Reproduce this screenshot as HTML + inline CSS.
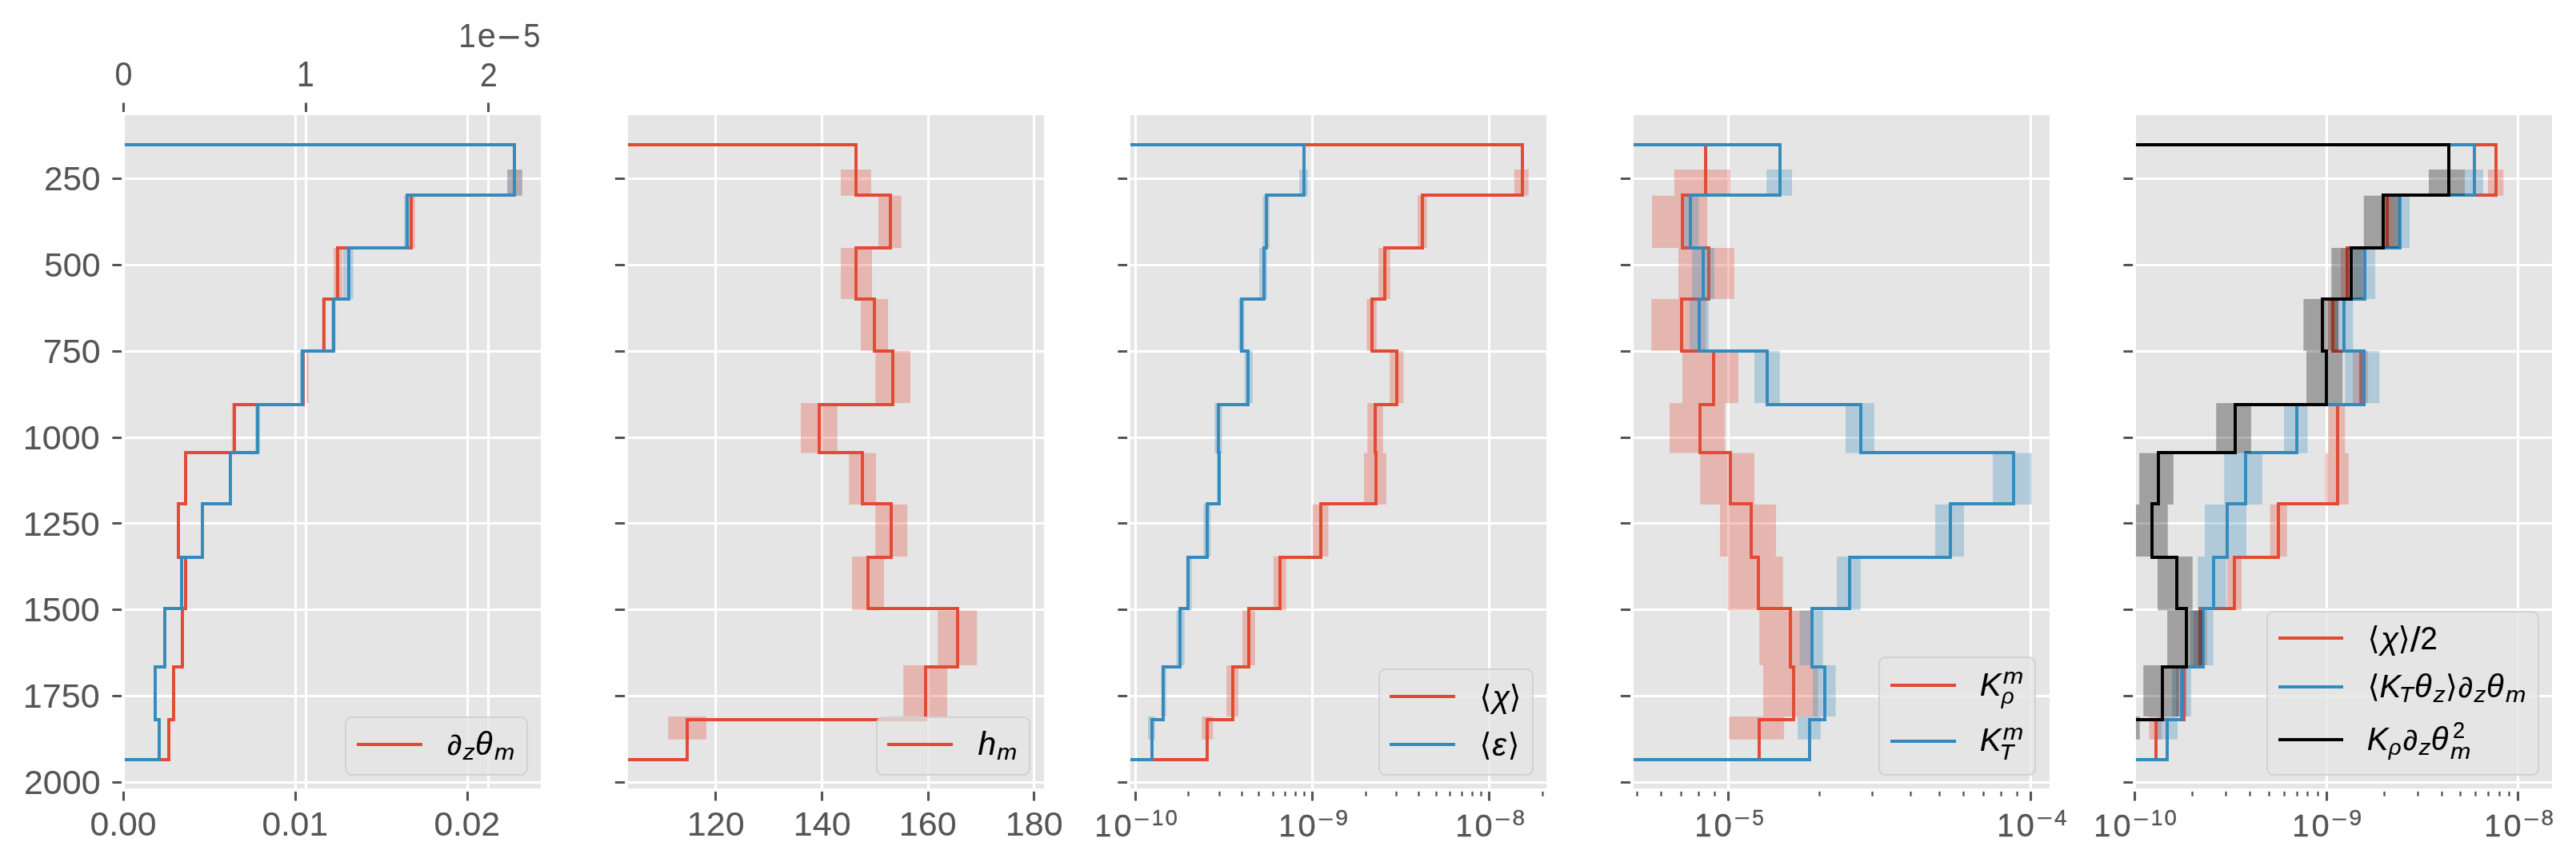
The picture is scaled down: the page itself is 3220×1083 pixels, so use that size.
<!DOCTYPE html><html><head><meta charset="utf-8"><style>html,body{margin:0;padding:0;background:#fff;}svg{display:block;font-family:"Liberation Sans",sans-serif;}</style></head><body>
<svg width="3220" height="1083" viewBox="0 0 3220 1083">
<rect width="3220" height="1083" fill="#ffffff"/>
<defs>
<clipPath id="c0"><rect x="154" y="142" width="524" height="846"/></clipPath>
<clipPath id="c1"><rect x="783" y="142" width="524" height="846"/></clipPath>
<clipPath id="c2"><rect x="1411" y="142" width="524" height="846"/></clipPath>
<clipPath id="c3"><rect x="2040" y="142" width="524" height="846"/></clipPath>
<clipPath id="c4"><rect x="2668" y="142" width="524" height="846"/></clipPath>
</defs>
<g>
<rect x="154" y="142" width="524" height="846" fill="#E5E5E5"/>
<path d="M154 223.5H678M154 331.5H678M154 439.5H678M154 547.5H678M154 654.5H678M154 762.5H678M154 870.5H678M154 978.5H678M154.5 142V988M369.5 142V988M584.5 142V988M382.5 142V988M610.5 142V988M154.5 142V988" stroke="#ffffff" stroke-width="3.11" fill="none"/>
<g clip-path="url(#c0)">
<rect x="634.1" y="212" width="18.7" height="32.7" fill="#E24A33" fill-opacity="0.3"/>
<rect x="512" y="244.7" width="6.8" height="65.4" fill="#E24A33" fill-opacity="0.3"/>
<rect x="417" y="310.1" width="11" height="63.8" fill="#E24A33" fill-opacity="0.3"/>
<rect x="402.2" y="373.9" width="4.8" height="64.8" fill="#E24A33" fill-opacity="0.3"/>
<rect x="383" y="438.7" width="2.7" height="65.4" fill="#E24A33" fill-opacity="0.3"/>
<rect x="289.7" y="504.1" width="5.1" height="62.5" fill="#E24A33" fill-opacity="0.3"/>
<path d="M114 181H643V244H514V310H422V374H405V439H379V506H293V566H232V630H223V697H232V761H228V834H217V900H211V950H114" stroke="#E24A33" stroke-width="3.89" fill="none" stroke-linejoin="miter" stroke-linecap="butt"/>
<rect x="634.1" y="212" width="18.7" height="32.7" fill="#348ABD" fill-opacity="0.3"/>
<rect x="505" y="244.7" width="7" height="65.4" fill="#348ABD" fill-opacity="0.3"/>
<rect x="429" y="310.1" width="12.6" height="63.8" fill="#348ABD" fill-opacity="0.3"/>
<rect x="414" y="373.9" width="5.7" height="64.8" fill="#348ABD" fill-opacity="0.3"/>
<rect x="374.8" y="438.7" width="6.3" height="65.4" fill="#348ABD" fill-opacity="0.3"/>
<rect x="318.9" y="504.1" width="6.4" height="62.5" fill="#348ABD" fill-opacity="0.3"/>
<path d="M114 181H643V244H509V310H436V374H417V439H378V506H322V566H288V630H253V697H227V761H206V834H194V900H199V950H114" stroke="#348ABD" stroke-width="3.89" fill="none" stroke-linejoin="miter" stroke-linecap="butt"/>
</g>
<path d="M154 223.5H140.39M154 331.5H140.39M154 439.5H140.39M154 547.5H140.39M154 654.5H140.39M154 762.5H140.39M154 870.5H140.39M154 978.5H140.39M154.5 988V1001.61M369.5 988V1001.61M584.5 988V1001.61M154.5 142V128.39M382.5 142V128.39M610.5 142V128.39" stroke="#555555" stroke-width="3.11" fill="none"/>
<rect x="154" y="142" width="524" height="846" fill="none" stroke="#ffffff" stroke-width="3.89"/>
</g>
<g>
<rect x="783" y="142" width="524" height="846" fill="#E5E5E5"/>
<path d="M782.5 223.5H1306.5M782.5 331.5H1306.5M782.5 439.5H1306.5M782.5 547.5H1306.5M782.5 654.5H1306.5M782.5 762.5H1306.5M782.5 870.5H1306.5M782.5 978.5H1306.5M894.5 142V988M1027.5 142V988M1160.5 142V988M1292.5 142V988" stroke="#ffffff" stroke-width="3.11" fill="none"/>
<g clip-path="url(#c1)">
<rect x="1051" y="212" width="37.9" height="32.7" fill="#E24A33" fill-opacity="0.3"/>
<rect x="1098" y="244.7" width="28.7" height="65.4" fill="#E24A33" fill-opacity="0.3"/>
<rect x="1051" y="310.1" width="39" height="63.8" fill="#E24A33" fill-opacity="0.3"/>
<rect x="1076" y="373.9" width="34" height="64.8" fill="#E24A33" fill-opacity="0.3"/>
<rect x="1094.2" y="438.7" width="43.7" height="65.4" fill="#E24A33" fill-opacity="0.3"/>
<rect x="1001" y="504.1" width="45.7" height="62.5" fill="#E24A33" fill-opacity="0.3"/>
<rect x="1061.2" y="566.6" width="33.8" height="64.3" fill="#E24A33" fill-opacity="0.3"/>
<rect x="1094.2" y="630.9" width="39.9" height="65.1" fill="#E24A33" fill-opacity="0.3"/>
<rect x="1065" y="696" width="39.9" height="67.4" fill="#E24A33" fill-opacity="0.3"/>
<rect x="1172.2" y="763.4" width="49" height="68.6" fill="#E24A33" fill-opacity="0.3"/>
<rect x="1129.3" y="832" width="54.6" height="64" fill="#E24A33" fill-opacity="0.3"/>
<rect x="835.2" y="896" width="47.7" height="28.7" fill="#E24A33" fill-opacity="0.3"/>
<path d="M742.5 181H1070V244H1113V310H1070V374H1093V439H1116V506H1024V566H1078V630H1114V697H1085V761H1197V834H1157V900H859V950H742.5" stroke="#E24A33" stroke-width="3.89" fill="none" stroke-linejoin="miter" stroke-linecap="butt"/>
</g>
<path d="M782.5 223.5H768.89M782.5 331.5H768.89M782.5 439.5H768.89M782.5 547.5H768.89M782.5 654.5H768.89M782.5 762.5H768.89M782.5 870.5H768.89M782.5 978.5H768.89M894.5 988V1001.61M1027.5 988V1001.61M1160.5 988V1001.61M1292.5 988V1001.61" stroke="#555555" stroke-width="3.11" fill="none"/>
<rect x="783" y="142" width="524" height="846" fill="none" stroke="#ffffff" stroke-width="3.89"/>
</g>
<g>
<rect x="1411" y="142" width="524" height="846" fill="#E5E5E5"/>
<path d="M1411 223.5H1935M1411 331.5H1935M1411 439.5H1935M1411 547.5H1935M1411 654.5H1935M1411 762.5H1935M1411 870.5H1935M1411 978.5H1935M1419.5 142V988M1640.5 142V988M1861.5 142V988" stroke="#ffffff" stroke-width="3.11" fill="none"/>
<g clip-path="url(#c2)">
<rect x="1892.9" y="212" width="17.8" height="32.7" fill="#E24A33" fill-opacity="0.3"/>
<rect x="1772" y="244.7" width="11.7" height="65.4" fill="#E24A33" fill-opacity="0.3"/>
<rect x="1723.2" y="310.1" width="14.5" height="63.8" fill="#E24A33" fill-opacity="0.3"/>
<rect x="1708.5" y="373.9" width="12.2" height="64.8" fill="#E24A33" fill-opacity="0.3"/>
<rect x="1737.2" y="438.7" width="17.3" height="65.4" fill="#E24A33" fill-opacity="0.3"/>
<rect x="1709.3" y="504.1" width="19.5" height="62.5" fill="#E24A33" fill-opacity="0.3"/>
<rect x="1705" y="566.6" width="27.9" height="64.3" fill="#E24A33" fill-opacity="0.3"/>
<rect x="1640.7" y="630.9" width="19.8" height="65.1" fill="#E24A33" fill-opacity="0.3"/>
<rect x="1591.9" y="696" width="15.8" height="67.4" fill="#E24A33" fill-opacity="0.3"/>
<rect x="1553" y="763.4" width="15.8" height="68.6" fill="#E24A33" fill-opacity="0.3"/>
<rect x="1533.2" y="832" width="14.8" height="64" fill="#E24A33" fill-opacity="0.3"/>
<rect x="1502.2" y="896" width="14" height="28.7" fill="#E24A33" fill-opacity="0.3"/>
<path d="M1371 181H1903V244H1778V310H1731V374H1715V439H1746V506H1719V566H1720V630H1651V697H1600V761H1561V834H1541V900H1509V950H1371" stroke="#E24A33" stroke-width="3.89" fill="none" stroke-linejoin="miter" stroke-linecap="butt"/>
<rect x="1624.2" y="212" width="10.6" height="32.7" fill="#348ABD" fill-opacity="0.3"/>
<rect x="1578.5" y="244.7" width="8.3" height="65.4" fill="#348ABD" fill-opacity="0.3"/>
<rect x="1574.1" y="310.1" width="9.9" height="63.8" fill="#348ABD" fill-opacity="0.3"/>
<rect x="1548" y="373.9" width="7.6" height="64.8" fill="#348ABD" fill-opacity="0.3"/>
<rect x="1555.6" y="438.7" width="10.2" height="65.4" fill="#348ABD" fill-opacity="0.3"/>
<rect x="1518.3" y="504.1" width="9.3" height="62.5" fill="#348ABD" fill-opacity="0.3"/>
<rect x="1521" y="566.6" width="5" height="64.3" fill="#348ABD" fill-opacity="0.3"/>
<rect x="1504.3" y="630.9" width="8.9" height="65.1" fill="#348ABD" fill-opacity="0.3"/>
<rect x="1482.7" y="696" width="6.9" height="67.4" fill="#348ABD" fill-opacity="0.3"/>
<rect x="1470.5" y="763.4" width="10.2" height="68.6" fill="#348ABD" fill-opacity="0.3"/>
<rect x="1451.5" y="832" width="6.3" height="64" fill="#348ABD" fill-opacity="0.3"/>
<rect x="1435" y="896" width="8.8" height="28.7" fill="#348ABD" fill-opacity="0.3"/>
<path d="M1371 181H1630V244H1583V310H1580V374H1552V439H1560V506H1523V566H1524V630H1509V697H1485V761H1475V834H1454V900H1440V950H1371" stroke="#348ABD" stroke-width="3.89" fill="none" stroke-linejoin="miter" stroke-linecap="butt"/>
</g>
<path d="M1411 223.5H1397.39M1411 331.5H1397.39M1411 439.5H1397.39M1411 547.5H1397.39M1411 654.5H1397.39M1411 762.5H1397.39M1411 870.5H1397.39M1411 978.5H1397.39M1419.5 988V1001.61M1640.5 988V1001.61M1861.5 988V1001.61" stroke="#555555" stroke-width="3.11" fill="none"/>
<path d="M1485.5 988V995.78M1524.5 988V995.78M1552.5 988V995.78M1573.5 988V995.78M1591.5 988V995.78M1606.5 988V995.78M1619.5 988V995.78M1630.5 988V995.78M1707.5 988V995.78M1745.5 988V995.78M1773.5 988V995.78M1795.5 988V995.78M1812.5 988V995.78M1827.5 988V995.78M1840.5 988V995.78M1851.5 988V995.78M1928.5 988V995.78" stroke="#555555" stroke-width="2.33" fill="none"/>
<rect x="1411" y="142" width="524" height="846" fill="none" stroke="#ffffff" stroke-width="3.89"/>
</g>
<g>
<rect x="2040" y="142" width="524" height="846" fill="#E5E5E5"/>
<path d="M2039.5 223.5H2563.5M2039.5 331.5H2563.5M2039.5 439.5H2563.5M2039.5 547.5H2563.5M2039.5 654.5H2563.5M2039.5 762.5H2563.5M2039.5 870.5H2563.5M2039.5 978.5H2563.5M2160.5 142V988M2538.5 142V988" stroke="#ffffff" stroke-width="3.11" fill="none"/>
<g clip-path="url(#c3)">
<rect x="2092.9" y="212" width="69.9" height="32.7" fill="#E24A33" fill-opacity="0.3"/>
<rect x="2065" y="244.7" width="69" height="65.4" fill="#E24A33" fill-opacity="0.3"/>
<rect x="2098" y="310.1" width="69.8" height="63.8" fill="#E24A33" fill-opacity="0.3"/>
<rect x="2064.2" y="373.9" width="68.1" height="64.8" fill="#E24A33" fill-opacity="0.3"/>
<rect x="2103" y="438.7" width="70" height="65.4" fill="#E24A33" fill-opacity="0.3"/>
<rect x="2087" y="504.1" width="69.2" height="62.5" fill="#E24A33" fill-opacity="0.3"/>
<rect x="2125.2" y="566.6" width="67.8" height="64.3" fill="#E24A33" fill-opacity="0.3"/>
<rect x="2150" y="630.9" width="70" height="65.1" fill="#E24A33" fill-opacity="0.3"/>
<rect x="2159.5" y="696" width="69.3" height="67.4" fill="#E24A33" fill-opacity="0.3"/>
<rect x="2199.3" y="763.4" width="64.3" height="68.6" fill="#E24A33" fill-opacity="0.3"/>
<rect x="2204" y="832" width="68.5" height="64" fill="#E24A33" fill-opacity="0.3"/>
<rect x="2161.2" y="896" width="68.9" height="28.7" fill="#E24A33" fill-opacity="0.3"/>
<path d="M1999.5 181H2132V244H2103V310H2136V374H2102V439H2142V506H2125V566H2163V630H2189V697H2198V761H2238V834H2242V900H2199V950H1999.5" stroke="#E24A33" stroke-width="3.89" fill="none" stroke-linejoin="miter" stroke-linecap="butt"/>
<rect x="2208.2" y="212" width="31.8" height="32.7" fill="#348ABD" fill-opacity="0.3"/>
<rect x="2104.9" y="244.7" width="18.2" height="65.4" fill="#348ABD" fill-opacity="0.3"/>
<rect x="2115" y="310.1" width="28" height="63.8" fill="#348ABD" fill-opacity="0.3"/>
<rect x="2112" y="373.9" width="23.8" height="64.8" fill="#348ABD" fill-opacity="0.3"/>
<rect x="2193" y="438.7" width="31.7" height="65.4" fill="#348ABD" fill-opacity="0.3"/>
<rect x="2307" y="504.1" width="35.9" height="62.5" fill="#348ABD" fill-opacity="0.3"/>
<rect x="2491" y="566.6" width="49" height="64.3" fill="#348ABD" fill-opacity="0.3"/>
<rect x="2419" y="630.9" width="35.9" height="65.1" fill="#348ABD" fill-opacity="0.3"/>
<rect x="2296.1" y="696" width="29.7" height="67.4" fill="#348ABD" fill-opacity="0.3"/>
<rect x="2249.6" y="763.4" width="29.2" height="68.6" fill="#348ABD" fill-opacity="0.3"/>
<rect x="2266.1" y="832" width="28.5" height="64" fill="#348ABD" fill-opacity="0.3"/>
<rect x="2247.1" y="896" width="28.7" height="28.7" fill="#348ABD" fill-opacity="0.3"/>
<path d="M1999.5 181H2225V244H2113V310H2129V374H2124V439H2209V506H2326V566H2517V630H2438V697H2312V761H2265V834H2281V900H2262V950H1999.5" stroke="#348ABD" stroke-width="3.89" fill="none" stroke-linejoin="miter" stroke-linecap="butt"/>
</g>
<path d="M2039.5 223.5H2025.89M2039.5 331.5H2025.89M2039.5 439.5H2025.89M2039.5 547.5H2025.89M2039.5 654.5H2025.89M2039.5 762.5H2025.89M2039.5 870.5H2025.89M2039.5 978.5H2025.89M2160.5 988V1001.61M2538.5 988V1001.61" stroke="#555555" stroke-width="3.11" fill="none"/>
<path d="M2046.5 988V995.78M2076.5 988V995.78M2101.5 988V995.78M2123.5 988V995.78M2143.5 988V995.78M2274.5 988V995.78M2340.5 988V995.78M2388.5 988V995.78M2424.5 988V995.78M2454.5 988V995.78M2479.5 988V995.78M2501.5 988V995.78M2521.5 988V995.78" stroke="#555555" stroke-width="2.33" fill="none"/>
<rect x="2040" y="142" width="524" height="846" fill="none" stroke="#ffffff" stroke-width="3.89"/>
</g>
<g>
<rect x="2668" y="142" width="524" height="846" fill="#E5E5E5"/>
<path d="M2668 223.5H3192M2668 331.5H3192M2668 439.5H3192M2668 547.5H3192M2668 654.5H3192M2668 762.5H3192M2668 870.5H3192M2668 978.5H3192M2668.5 142V988M2908.5 142V988M3147.5 142V988" stroke="#ffffff" stroke-width="3.11" fill="none"/>
<g clip-path="url(#c4)">
<rect x="3110" y="212" width="19.3" height="32.7" fill="#E24A33" fill-opacity="0.3"/>
<rect x="2980" y="244.7" width="12" height="65.4" fill="#E24A33" fill-opacity="0.3"/>
<rect x="2925.9" y="310.1" width="10.3" height="63.8" fill="#E24A33" fill-opacity="0.3"/>
<rect x="2910" y="373.9" width="13" height="64.8" fill="#E24A33" fill-opacity="0.3"/>
<rect x="2940.9" y="438.7" width="19.1" height="65.4" fill="#E24A33" fill-opacity="0.3"/>
<rect x="2910.4" y="504.1" width="20.8" height="62.5" fill="#E24A33" fill-opacity="0.3"/>
<rect x="2906.6" y="566.6" width="29.2" height="64.3" fill="#E24A33" fill-opacity="0.3"/>
<rect x="2837.5" y="630.9" width="21.3" height="65.1" fill="#E24A33" fill-opacity="0.3"/>
<rect x="2784.1" y="696" width="17.8" height="67.4" fill="#E24A33" fill-opacity="0.3"/>
<rect x="2742" y="763.4" width="17.1" height="68.6" fill="#E24A33" fill-opacity="0.3"/>
<rect x="2719.9" y="832" width="13.9" height="64" fill="#E24A33" fill-opacity="0.3"/>
<rect x="2686.4" y="896" width="15.7" height="28.7" fill="#E24A33" fill-opacity="0.3"/>
<path d="M2628 181H3120V244H2984V310H2934V374H2916V439H2951V506H2922V566H2922V630H2848V697H2793V761H2750V834H2730V900H2695V950H2628" stroke="#E24A33" stroke-width="3.89" fill="none" stroke-linejoin="miter" stroke-linecap="butt"/>
<rect x="3081" y="212" width="23" height="32.7" fill="#348ABD" fill-opacity="0.3"/>
<rect x="2992" y="244.7" width="19.9" height="65.4" fill="#348ABD" fill-opacity="0.3"/>
<rect x="2941.7" y="310.1" width="27.4" height="63.8" fill="#348ABD" fill-opacity="0.3"/>
<rect x="2918" y="373.9" width="23.4" height="64.8" fill="#348ABD" fill-opacity="0.3"/>
<rect x="2931.2" y="438.7" width="43.2" height="65.4" fill="#348ABD" fill-opacity="0.3"/>
<rect x="2855" y="504.1" width="29.5" height="62.5" fill="#348ABD" fill-opacity="0.3"/>
<rect x="2780.3" y="566.6" width="47.5" height="64.3" fill="#348ABD" fill-opacity="0.3"/>
<rect x="2756" y="630.9" width="52" height="65.1" fill="#348ABD" fill-opacity="0.3"/>
<rect x="2747.3" y="696" width="35.6" height="67.4" fill="#348ABD" fill-opacity="0.3"/>
<rect x="2737.9" y="763.4" width="28.8" height="68.6" fill="#348ABD" fill-opacity="0.3"/>
<rect x="2714.8" y="832" width="24.1" height="64" fill="#348ABD" fill-opacity="0.3"/>
<rect x="2697" y="896" width="24.9" height="28.7" fill="#348ABD" fill-opacity="0.3"/>
<path d="M2628 181H3093V244H3000V310H2956V374H2930V439H2955V506H2871V566H2807V630H2784V697H2767V761H2754V834H2727V900H2709V950H2628" stroke="#348ABD" stroke-width="3.89" fill="none" stroke-linejoin="miter" stroke-linecap="butt"/>
<rect x="3036" y="212" width="45" height="32.7" fill="#000000" fill-opacity="0.3"/>
<rect x="2954.8" y="244.7" width="43.9" height="65.4" fill="#000000" fill-opacity="0.3"/>
<rect x="2914.3" y="310.1" width="39.5" height="63.8" fill="#000000" fill-opacity="0.3"/>
<rect x="2879.4" y="373.9" width="43.7" height="64.8" fill="#000000" fill-opacity="0.3"/>
<rect x="2883" y="438.7" width="45.2" height="65.4" fill="#000000" fill-opacity="0.3"/>
<rect x="2770.2" y="504.1" width="43.7" height="62.5" fill="#000000" fill-opacity="0.3"/>
<rect x="2674.2" y="566.6" width="42.6" height="64.3" fill="#000000" fill-opacity="0.3"/>
<rect x="2650" y="630.9" width="59.7" height="65.1" fill="#000000" fill-opacity="0.3"/>
<rect x="2697" y="696" width="43.7" height="67.4" fill="#000000" fill-opacity="0.3"/>
<rect x="2709.1" y="763.4" width="43.9" height="68.6" fill="#000000" fill-opacity="0.3"/>
<rect x="2679.2" y="832" width="44.5" height="64" fill="#000000" fill-opacity="0.3"/>
<rect x="2650" y="896" width="24.7" height="28.7" fill="#000000" fill-opacity="0.3"/>
<path d="M2628 181H3061V244H2979V310H2939V374H2903V439H2908V506H2794V566H2698V630H2690V697H2721V761H2733V834H2703V900H2600V950H2628" stroke="#000000" stroke-width="3.89" fill="none" stroke-linejoin="miter" stroke-linecap="butt"/>
</g>
<path d="M2668 223.5H2654.39M2668 331.5H2654.39M2668 439.5H2654.39M2668 547.5H2654.39M2668 654.5H2654.39M2668 762.5H2654.39M2668 870.5H2654.39M2668 978.5H2654.39M2668.5 988V1001.61M2908.5 988V1001.61M3147.5 988V1001.61" stroke="#555555" stroke-width="3.11" fill="none"/>
<path d="M2740.5 988V995.78M2782.5 988V995.78M2812.5 988V995.78M2836.5 988V995.78M2855.5 988V995.78M2871.5 988V995.78M2884.5 988V995.78M2897.5 988V995.78M2980.5 988V995.78M3022.5 988V995.78M3052.5 988V995.78M3075.5 988V995.78M3094.5 988V995.78M3110.5 988V995.78M3124.5 988V995.78M3136.5 988V995.78" stroke="#555555" stroke-width="2.33" fill="none"/>
<rect x="2668" y="142" width="524" height="846" fill="none" stroke="#ffffff" stroke-width="3.89"/>
</g>
<g style="will-change:transform">
<text transform="translate(54.92,237.74) scale(0.42366,0.41949)" font-size="100" stroke="#555555" stroke-width="0.24" fill="#555555">250</text>
<text transform="translate(55.36,345.74) scale(0.42093,0.41949)" font-size="100" stroke="#555555" stroke-width="0.24" fill="#555555">500</text>
<text transform="translate(53.84,453.74) scale(0.43026,0.41949)" font-size="100" stroke="#555555" stroke-width="0.24" fill="#555555">750</text>
<text transform="translate(28.77,561.74) scale(0.43093,0.41949)" font-size="100" stroke="#555555" stroke-width="0.24" fill="#555555">1000</text>
<text transform="translate(28.77,669.74) scale(0.43093,0.41949)" font-size="100" stroke="#555555" stroke-width="0.24" fill="#555555">1250</text>
<text transform="translate(28.77,776.74) scale(0.43093,0.41949)" font-size="100" stroke="#555555" stroke-width="0.24" fill="#555555">1500</text>
<text transform="translate(28.77,884.74) scale(0.43093,0.41949)" font-size="100" stroke="#555555" stroke-width="0.24" fill="#555555">1750</text>
<text transform="translate(29.89,992.74) scale(0.43039,0.41949)" font-size="100" stroke="#555555" stroke-width="0.24" fill="#555555">2000</text>
<text transform="translate(112.38,1044.74) scale(0.42769,0.41949)" font-size="100" stroke="#555555" stroke-width="0.24" fill="#555555">0.00</text>
<text transform="translate(327.39,1044.74) scale(0.42456,0.41949)" font-size="100" stroke="#555555" stroke-width="0.24" fill="#555555">0.01</text>
<text transform="translate(542.39,1044.74) scale(0.42489,0.41949)" font-size="100" stroke="#555555" stroke-width="0.24" fill="#555555">0.02</text>
<text transform="translate(858.77,1044.74) scale(0.43072,0.41949)" font-size="100" stroke="#555555" stroke-width="0.24" fill="#555555">120</text>
<text transform="translate(991.77,1044.74) scale(0.43072,0.41949)" font-size="100" stroke="#555555" stroke-width="0.24" fill="#555555">140</text>
<text transform="translate(1123.77,1044.74) scale(0.43072,0.41949)" font-size="100" stroke="#555555" stroke-width="0.24" fill="#555555">160</text>
<text transform="translate(1256.77,1044.74) scale(0.43072,0.41949)" font-size="100" stroke="#555555" stroke-width="0.24" fill="#555555">180</text>
<text transform="translate(1368.29,1046.3) scale(0.37868,0.38800)" font-size="100" stroke="#555555" stroke-width="0.91" fill="#555555">1</text>
<text transform="translate(1392.38,1046.44) scale(0.39766,0.39136)" font-size="100" stroke="#555555" stroke-width="0.89" fill="#555555">0</text>
<text transform="translate(1417.38,1032.55) scale(0.33929,0.25327)" font-size="100" stroke="#555555" stroke-width="1.18" fill="#555555">−</text>
<text transform="translate(1439.69,1032.1) scale(0.26264,0.27008)" font-size="100" stroke="#555555" stroke-width="1.31" fill="#555555">1</text>
<text transform="translate(1456.54,1032.2) scale(0.27616,0.27247)" font-size="100" stroke="#555555" stroke-width="1.28" fill="#555555">0</text>
<text transform="translate(1598.28,1046.3) scale(0.37968,0.38800)" font-size="100" stroke="#555555" stroke-width="0.91" fill="#555555">1</text>
<text transform="translate(1622.43,1046.44) scale(0.39871,0.39136)" font-size="100" stroke="#555555" stroke-width="0.89" fill="#555555">0</text>
<text transform="translate(1647.5,1032.55) scale(0.34019,0.25327)" font-size="100" stroke="#555555" stroke-width="1.18" fill="#555555">−</text>
<text transform="translate(1669.27,1032.2) scale(0.28599,0.27247)" font-size="100" stroke="#555555" stroke-width="1.25" fill="#555555">9</text>
<text transform="translate(1819.28,1046.3) scale(0.37943,0.38800)" font-size="100" stroke="#555555" stroke-width="0.91" fill="#555555">1</text>
<text transform="translate(1843.42,1046.44) scale(0.39845,0.39136)" font-size="100" stroke="#555555" stroke-width="0.89" fill="#555555">0</text>
<text transform="translate(1868.47,1032.55) scale(0.33997,0.25327)" font-size="100" stroke="#555555" stroke-width="1.18" fill="#555555">−</text>
<text transform="translate(1890.49,1032.2) scale(0.27966,0.27247)" font-size="100" stroke="#555555" stroke-width="1.27" fill="#555555">8</text>
<text transform="translate(2118.27,1046.28) scale(0.38184,0.40368)" font-size="100" stroke="#555555" stroke-width="0.89" fill="#555555">1</text>
<text transform="translate(2142.55,1046.43) scale(0.40098,0.40717)" font-size="100" stroke="#555555" stroke-width="0.87" fill="#555555">0</text>
<text transform="translate(2167.76,1032.04) scale(0.34213,0.26533)" font-size="100" stroke="#555555" stroke-width="1.15" fill="#555555">−</text>
<text transform="translate(2190.34,1031.62) scale(0.26235,0.28260)" font-size="100" stroke="#555555" stroke-width="1.28" fill="#555555">5</text>
<text transform="translate(2496.26,1046.28) scale(0.38256,0.40368)" font-size="100" stroke="#555555" stroke-width="0.89" fill="#555555">1</text>
<text transform="translate(2520.59,1046.43) scale(0.40172,0.40717)" font-size="100" stroke="#555555" stroke-width="0.87" fill="#555555">0</text>
<text transform="translate(2545.85,1032.04) scale(0.34277,0.26533)" font-size="100" stroke="#555555" stroke-width="1.15" fill="#555555">−</text>
<text transform="translate(2568.1,1031.51) scale(0.27942,0.28105)" font-size="100" stroke="#555555" stroke-width="1.25" fill="#555555">4</text>
<text transform="translate(2617.29,1046.3) scale(0.37868,0.38800)" font-size="100" stroke="#555555" stroke-width="0.91" fill="#555555">1</text>
<text transform="translate(2641.38,1046.44) scale(0.39766,0.39136)" font-size="100" stroke="#555555" stroke-width="0.89" fill="#555555">0</text>
<text transform="translate(2666.38,1032.55) scale(0.33929,0.25327)" font-size="100" stroke="#555555" stroke-width="1.18" fill="#555555">−</text>
<text transform="translate(2688.69,1032.1) scale(0.26264,0.27008)" font-size="100" stroke="#555555" stroke-width="1.31" fill="#555555">1</text>
<text transform="translate(2705.54,1032.2) scale(0.27616,0.27247)" font-size="100" stroke="#555555" stroke-width="1.28" fill="#555555">0</text>
<text transform="translate(2865.28,1046.3) scale(0.37968,0.38800)" font-size="100" stroke="#555555" stroke-width="0.91" fill="#555555">1</text>
<text transform="translate(2889.43,1046.44) scale(0.39871,0.39136)" font-size="100" stroke="#555555" stroke-width="0.89" fill="#555555">0</text>
<text transform="translate(2914.5,1032.55) scale(0.34019,0.25327)" font-size="100" stroke="#555555" stroke-width="1.18" fill="#555555">−</text>
<text transform="translate(2936.27,1032.2) scale(0.28599,0.27247)" font-size="100" stroke="#555555" stroke-width="1.25" fill="#555555">9</text>
<text transform="translate(3105.28,1046.3) scale(0.37943,0.38800)" font-size="100" stroke="#555555" stroke-width="0.91" fill="#555555">1</text>
<text transform="translate(3129.42,1046.44) scale(0.39845,0.39136)" font-size="100" stroke="#555555" stroke-width="0.89" fill="#555555">0</text>
<text transform="translate(3154.47,1032.55) scale(0.33997,0.25327)" font-size="100" stroke="#555555" stroke-width="1.18" fill="#555555">−</text>
<text transform="translate(3176.49,1032.2) scale(0.27966,0.27247)" font-size="100" stroke="#555555" stroke-width="1.27" fill="#555555">8</text>
<text transform="translate(143.51,106.73) scale(0.39537,0.42655)" font-size="100" stroke="#555555" stroke-width="0.24" fill="#555555">0</text>
<text transform="translate(371.06,108.15) scale(0.39197,0.43896)" font-size="100" stroke="#555555" stroke-width="0.24" fill="#555555">1</text>
<text transform="translate(600.07,108.15) scale(0.39292,0.43251)" font-size="100" stroke="#555555" stroke-width="0.24" fill="#555555">2</text>
<text transform="translate(573.15,59.02) scale(0.38753,0.42914)" font-size="100" stroke="#555555" stroke-width="0.24" fill="#555555">1</text>
<text transform="translate(596.85,59.19) scale(0.41611,0.42410)" font-size="100" stroke="#555555" stroke-width="0.24" fill="#555555">e</text>
<text transform="translate(621.96,61.6) scale(0.49684,0.45914)" font-size="100" stroke="#555555" stroke-width="0.21" fill="#555555">−</text>
<text transform="translate(654.2,59.18) scale(0.38311,0.43138)" font-size="100" stroke="#555555" stroke-width="0.25" fill="#555555">5</text>
</g>
<g style="will-change:transform">
<rect x="432" y="897" width="227" height="72" rx="7.8" ry="7.8" fill="#E5E5E5" fill-opacity="0.8" stroke="#CCCCCC" stroke-opacity="0.8" stroke-width="1.94"/>
<path d="M447.94 931H526.06" stroke="#E24A33" stroke-width="3.89" stroke-linecap="square"/>
<text transform="translate(559.06,943.67) scale(0.37072,0.35380)" font-size="100" stroke="#000000" stroke-width="0.41" fill="#000000">∂</text>
<text transform="translate(578.74,949.92) scale(0.29713,0.27715)" font-size="100" font-style="italic" stroke="#000000" stroke-width="0.52" fill="#000000">z</text>
<text transform="translate(594.08,943.62) scale(0.39756,0.40775)" font-size="100" font-style="italic" stroke="#000000" stroke-width="0.37" fill="#000000">θ</text>
<text transform="translate(618.01,949.92) scale(0.30405,0.27900)" font-size="100" font-style="italic" stroke="#000000" stroke-width="0.51" fill="#000000">m</text>
<rect x="1096" y="897" width="191" height="72" rx="7.8" ry="7.8" fill="#E5E5E5" fill-opacity="0.8" stroke="#CCCCCC" stroke-opacity="0.8" stroke-width="1.94"/>
<path d="M1110.94 931H1189.06" stroke="#E24A33" stroke-width="3.89" stroke-linecap="square"/>
<text transform="translate(1222.4,943.53) scale(0.40691,0.40652)" font-size="100" font-style="italic" stroke="#000000" stroke-width="0.37" fill="#000000">h</text>
<text transform="translate(1246.34,949.92) scale(0.29982,0.28138)" font-size="100" font-style="italic" stroke="#000000" stroke-width="0.52" fill="#000000">m</text>
<rect x="1724" y="837" width="192" height="132" rx="7.8" ry="7.8" fill="#E5E5E5" fill-opacity="0.8" stroke="#CCCCCC" stroke-opacity="0.8" stroke-width="1.94"/>
<path d="M1738.94 871H1817.06" stroke="#E24A33" stroke-width="3.89" stroke-linecap="square"/>
<path d="M1853 872.49 1858.19 855H1861.32L1856.13 872.49L1861.32 889.99H1858.19Z" fill="#000000"/>
<text transform="translate(1865.62,884.73) scale(0.39540,0.39598)" font-size="100" font-style="italic" stroke="#000000" stroke-width="0.38" fill="#000000">χ</text>
<path d="M1898 872.49 1892.81 889.99H1889.68L1894.87 872.49L1889.68 855H1892.81Z" fill="#000000"/>
<path d="M1738.94 931H1817.06" stroke="#348ABD" stroke-width="3.89" stroke-linecap="square"/>
<path d="M1853 932.5 1858.18 915H1861.31L1856.13 932.5L1861.31 950H1858.18Z" fill="#000000"/>
<text transform="translate(1865.19,944.9) scale(0.40139,0.40987)" font-size="100" font-style="italic" stroke="#000000" stroke-width="0.37" fill="#000000">ε</text>
<path d="M1896 932.5 1890.82 950H1887.69L1892.87 932.5L1887.69 915H1890.82Z" fill="#000000"/>
<rect x="2349" y="822" width="195" height="147" rx="7.8" ry="7.8" fill="#E5E5E5" fill-opacity="0.8" stroke="#CCCCCC" stroke-opacity="0.8" stroke-width="1.94"/>
<path d="M2364.94 857H2443.06" stroke="#E24A33" stroke-width="3.89" stroke-linecap="square"/>
<text transform="translate(2474.84,869.78) scale(0.40083,0.40608)" font-size="100" font-style="italic" stroke="#000000" stroke-width="0.37" fill="#000000">K</text>
<text transform="translate(2503.8,855.03) scale(0.30675,0.27818)" font-size="100" font-style="italic" stroke="#000000" stroke-width="0.51" fill="#000000">m</text>
<text transform="translate(2501.72,880.2) scale(0.27838,0.27582)" font-size="100" font-style="italic" stroke="#000000" stroke-width="0.54" fill="#000000">ρ</text>
<path d="M2364.94 927H2443.06" stroke="#348ABD" stroke-width="3.89" stroke-linecap="square"/>
<text transform="translate(2474.84,939.49) scale(0.40083,0.40214)" font-size="100" font-style="italic" stroke="#000000" stroke-width="0.37" fill="#000000">K</text>
<text transform="translate(2503.8,924.88) scale(0.30675,0.27547)" font-size="100" font-style="italic" stroke="#000000" stroke-width="0.52" fill="#000000">m</text>
<text transform="translate(2499.13,949.92) scale(0.29526,0.28084)" font-size="100" font-style="italic" stroke="#000000" stroke-width="0.52" fill="#000000">T</text>
<rect x="2834" y="765" width="339" height="204" rx="7.8" ry="7.8" fill="#E5E5E5" fill-opacity="0.8" stroke="#CCCCCC" stroke-opacity="0.8" stroke-width="1.94"/>
<path d="M2849.94 798H2927.06" stroke="#E24A33" stroke-width="3.89" stroke-linecap="square"/>
<path d="M2963 799.49 2968.33 782H2971.54L2966.21 799.49L2971.54 816.99H2968.33Z" fill="#000000"/>
<text transform="translate(2975.95,811.73) scale(0.40598,0.39598)" font-size="100" font-style="italic" stroke="#000000" stroke-width="0.37" fill="#000000">χ</text>
<path d="M3009.2 799.49 3003.87 816.99H3000.65L3005.98 799.49L3000.65 782H3003.87Z" fill="#000000"/>
<text transform="translate(3012.73,814.95) scale(0.46403,0.43757)" font-size="100" stroke="#000000" stroke-width="0.33" fill="#000000">/</text>
<text transform="translate(3025.19,811.73) scale(0.39004,0.41543)" font-size="100" stroke="#000000" stroke-width="0.37" fill="#000000">2</text>
<path d="M2849.94 859H2927.06" stroke="#348ABD" stroke-width="3.89" stroke-linecap="square"/>
<path d="M2963 859.55 2968.34 842.34H2971.56L2966.22 859.55L2971.56 876.75H2968.34Z" fill="#000000"/>
<text transform="translate(2974.56,871.59) scale(0.39862,0.40727)" font-size="100" font-style="italic" stroke="#000000" stroke-width="0.37" fill="#000000">K</text>
<text transform="translate(2998.71,877.92) scale(0.29363,0.28444)" font-size="100" font-style="italic" stroke="#000000" stroke-width="0.52" fill="#000000">T</text>
<text transform="translate(3018,871.62) scale(0.39888,0.40775)" font-size="100" font-style="italic" stroke="#000000" stroke-width="0.37" fill="#000000">θ</text>
<text transform="translate(3041.65,877.92) scale(0.29811,0.27715)" font-size="100" font-style="italic" stroke="#000000" stroke-width="0.52" fill="#000000">z</text>
<path d="M3068.46 859.55 3063.12 876.75H3059.9L3065.24 859.55L3059.9 842.34H3063.12Z" fill="#000000"/>
<text transform="translate(3072.79,871.67) scale(0.37195,0.35380)" font-size="100" stroke="#000000" stroke-width="0.41" fill="#000000">∂</text>
<text transform="translate(3092.53,877.92) scale(0.29811,0.27715)" font-size="100" font-style="italic" stroke="#000000" stroke-width="0.52" fill="#000000">z</text>
<text transform="translate(3107.92,871.62) scale(0.39888,0.40775)" font-size="100" font-style="italic" stroke="#000000" stroke-width="0.37" fill="#000000">θ</text>
<text transform="translate(3131.93,877.92) scale(0.30505,0.27900)" font-size="100" font-style="italic" stroke="#000000" stroke-width="0.51" fill="#000000">m</text>
<path d="M2849.94 925H2927.06" stroke="#000000" stroke-width="3.89" stroke-linecap="square"/>
<text transform="translate(2958.85,937.92) scale(0.39938,0.40872)" font-size="100" font-style="italic" stroke="#000000" stroke-width="0.37" fill="#000000">K</text>
<text transform="translate(2985.63,944.16) scale(0.27737,0.27761)" font-size="100" font-style="italic" stroke="#000000" stroke-width="0.54" fill="#000000">ρ</text>
<text transform="translate(3003.63,938) scale(0.37266,0.35506)" font-size="100" stroke="#000000" stroke-width="0.41" fill="#000000">∂</text>
<text transform="translate(3023.41,944.28) scale(0.29868,0.27814)" font-size="100" font-style="italic" stroke="#000000" stroke-width="0.52" fill="#000000">z</text>
<text transform="translate(3038.83,937.95) scale(0.39964,0.40921)" font-size="100" font-style="italic" stroke="#000000" stroke-width="0.37" fill="#000000">θ</text>
<text transform="translate(3065.99,923.07) scale(0.27312,0.28639)" font-size="100" stroke="#000000" stroke-width="0.54" fill="#000000">2</text>
<text transform="translate(3062.88,948.52) scale(0.30563,0.28000)" font-size="100" font-style="italic" stroke="#000000" stroke-width="0.51" fill="#000000">m</text>
</g>
</svg></body></html>
